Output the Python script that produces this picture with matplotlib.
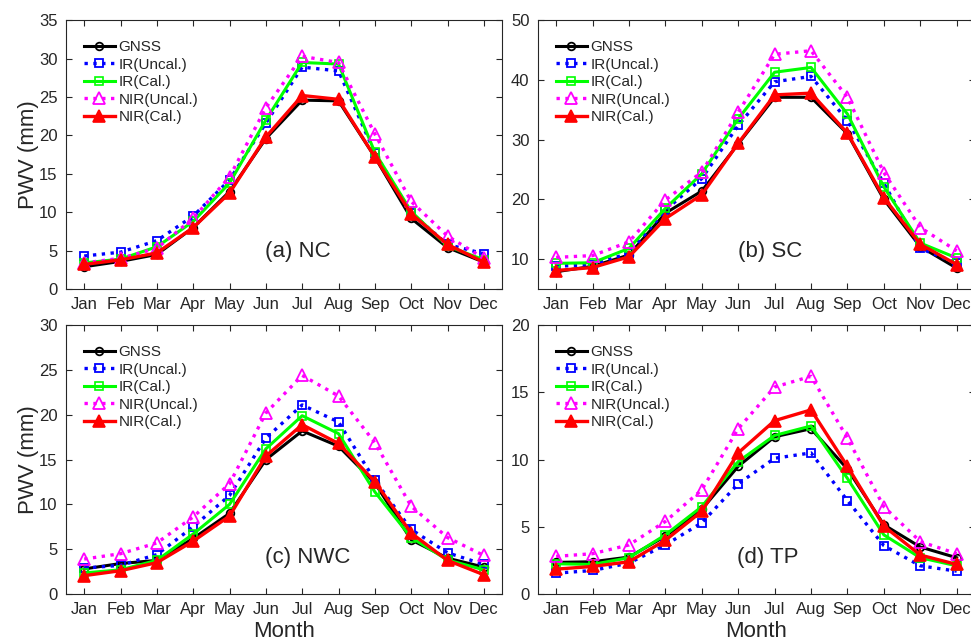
import matplotlib
matplotlib.use('Agg')
import matplotlib.pyplot as plt

plt.rcParams['font.family'] = ['Liberation Sans', 'DejaVu Sans']

months = ['Jan', 'Feb', 'Mar', 'Apr', 'May', 'Jun', 'Jul', 'Aug', 'Sep', 'Oct', 'Nov', 'Dec']
series_names = ['GNSS', 'IR(Uncal.)', 'IR(Cal.)', 'NIR(Uncal.)', 'NIR(Cal.)']

# (a) NC
nc_gnss = [2.9, 3.6, 4.5, 8.0, 12.7, 19.6, 24.6, 24.5, 17.2, 9.2, 5.4, 3.5]
nc_ir_uncal = [4.3, 4.8, 6.3, 9.5, 14.2, 21.6, 28.9, 28.4, 17.7, 9.9, 5.8, 4.6]
nc_ir_cal = [3.4, 3.9, 5.5, 8.8, 13.8, 22.0, 29.5, 29.3, 17.8, 10.1, 5.6, 3.8]
nc_nir_uncal = [3.4, 4.0, 5.3, 9.2, 14.6, 23.6, 30.3, 29.5, 20.2, 11.4, 6.9, 4.0]
nc_nir_cal = [3.2, 3.8, 4.7, 8.0, 12.5, 19.8, 25.2, 24.7, 17.2, 9.8, 5.8, 3.5]

# (b) SC
sc_gnss = [7.9, 8.8, 10.7, 17.7, 21.4, 29.3, 37.1, 37.1, 31.0, 20.0, 12.1, 8.5]
sc_ir_uncal = [8.8, 9.1, 11.0, 18.2, 23.5, 32.4, 39.7, 40.6, 33.2, 22.7, 11.8, 9.3]
sc_ir_cal = [9.3, 9.4, 11.8, 18.5, 24.3, 33.5, 41.3, 42.1, 34.3, 22.1, 12.7, 10.2]
sc_nir_uncal = [10.3, 10.6, 12.9, 19.9, 24.6, 34.6, 44.3, 44.9, 37.1, 24.5, 15.3, 11.4]
sc_nir_cal = [8.1, 8.6, 10.4, 16.8, 20.8, 29.4, 37.5, 37.8, 31.1, 20.3, 12.5, 9.1]

# (c) NWC
nwc_gnss = [2.8, 3.4, 3.75, 6.2, 9.0, 15.0, 18.2, 16.5, 12.4, 6.05, 4.0, 3.0]
nwc_ir_uncal = [2.9, 3.2, 4.4, 7.5, 11.0, 17.4, 21.1, 19.2, 12.7, 7.2, 4.6, 3.3]
nwc_ir_cal = [2.35, 2.7, 3.75, 6.7, 10.0, 16.2, 19.9, 17.9, 11.4, 6.3, 3.8, 2.7]
nwc_nir_uncal = [3.9, 4.5, 5.7, 8.6, 12.3, 20.2, 24.4, 22.1, 16.9, 9.8, 6.3, 4.3]
nwc_nir_cal = [2.05, 2.6, 3.5, 5.9, 8.7, 15.4, 18.9, 16.8, 12.55, 6.8, 3.75, 2.15]

# (d) TP
tp_gnss = [2.35, 2.4, 2.75, 4.3, 6.3, 9.5, 11.7, 12.3, 9.3, 5.15, 3.5, 2.7]
tp_ir_uncal = [1.55, 1.75, 2.3, 3.65, 5.3, 8.2, 10.1, 10.5, 6.95, 3.6, 2.1, 1.7]
tp_ir_cal = [2.25, 2.2, 2.7, 4.4, 6.5, 9.85, 11.8, 12.5, 8.6, 4.4, 2.7, 2.1]
tp_nir_uncal = [2.8, 3.0, 3.65, 5.4, 7.75, 12.3, 15.4, 16.2, 11.6, 6.5, 3.9, 3.0]
tp_nir_cal = [1.85, 2.05, 2.4, 4.0, 6.15, 10.5, 12.9, 13.7, 9.5, 5.05, 2.9, 2.2]

panels = [
    ('(a) NC', [nc_gnss, nc_ir_uncal, nc_ir_cal, nc_nir_uncal, nc_nir_cal], (0, 35), range(0, 36, 5)),
    ('(b) SC', [sc_gnss, sc_ir_uncal, sc_ir_cal, sc_nir_uncal, sc_nir_cal], (5, 50), range(10, 51, 10)),
    ('(c) NWC', [nwc_gnss, nwc_ir_uncal, nwc_ir_cal, nwc_nir_uncal, nwc_nir_cal], (0, 30), range(0, 31, 5)),
    ('(d) TP', [tp_gnss, tp_ir_uncal, tp_ir_cal, tp_nir_uncal, tp_nir_cal], (0, 20), range(0, 21, 5)),
]

# line styles for the five series
styles = [
    dict(color='black', ls='-', marker='o', ms=5.5, mfc='none', mew=1.3, lw=2.2),
    dict(color='#0000ff', ls=':', marker='s', ms=6, mfc='none', mew=1.3, lw=2.4),
    dict(color='#00ff00', ls='-', marker='s', ms=6, mfc='none', mew=1.2, lw=2.2),
    dict(color='#ff00ff', ls=':', marker='^', ms=9, mfc='none', mew=1.3, lw=2.4),
    dict(color='#ff0000', ls='-', marker='^', ms=9, mfc='#ff0000', mew=1.2, lw=2.4),
]

label_pos = [(0.532, 0.138), (0.531, 0.138), (0.555, 0.134), (0.526, 0.134)]
axes_pos = [
    [0.068, 0.5505, 0.449, 0.418],
    [0.554, 0.5505, 0.450, 0.418],
    [0.068, 0.0762, 0.449, 0.418],
    [0.554, 0.0762, 0.450, 0.418],
]

gray = '#262626'
fig = plt.figure(figsize=(9.71, 6.43), dpi=100)
x = list(range(1, 13))

for i, (title, data, ylim, yticks) in enumerate(panels):
    ax = fig.add_axes(axes_pos[i])
    for vals, name, st in zip(data, series_names, styles):
        ax.plot(x, vals, label=name, **st)
    ax.set_xlim(0.5, 12.5)
    ax.set_ylim(*ylim)
    ax.set_xticks(x)
    ax.set_xticklabels(months)
    ax.set_yticks(list(yticks))
    ax.tick_params(direction='in', top=True, right=True, length=4, labelsize=12,
                   colors=gray, width=0.8, pad=6)
    for sp in ax.spines.values():
        sp.set_color(gray)
        sp.set_linewidth(0.8)
    ax.text(label_pos[i][0], label_pos[i][1], title, transform=ax.transAxes,
            ha='center', va='center', fontsize=16, color=gray)
    leg = ax.legend(loc='upper left', bbox_to_anchor=(0.0, 0.9926), frameon=False,
                    fontsize=11, labelspacing=0.23, handlelength=2.0,
                    handletextpad=0.25, borderaxespad=0.78)
    for t in leg.get_texts():
        t.set_color(gray)
    if i % 2 == 0:
        ax.set_ylabel('PWV (mm)', fontsize=16, color=gray, labelpad=0)
    if i >= 2:
        ax.set_xlabel('Month', fontsize=16, color=gray, labelpad=2.5)

fig.savefig('out.png', dpi=100)
